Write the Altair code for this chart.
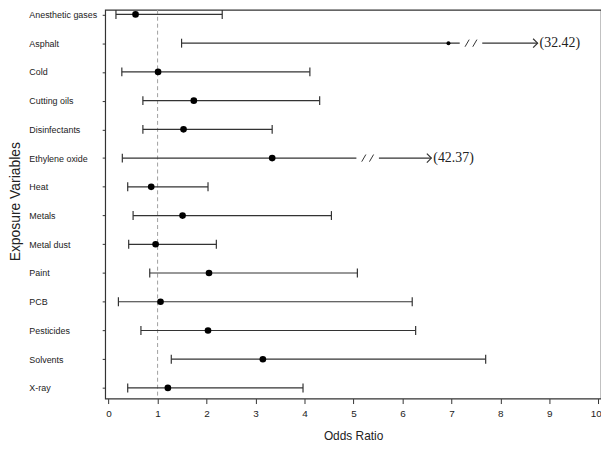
import json
import altair as alt
import pandas as pd

# ---- data ----
names = ["Anesthetic gases", "Asphalt", "Cold", "Cutting oils", "Disinfectants",
         "Ethylene oxide", "Heat", "Metals", "Metal dust", "Paint", "PCB",
         "Pesticides", "Solvents", "X-ray"]
odds = [0.55, 6.94, 1.01, 1.74, 1.53, 3.34, 0.87, 1.51, 0.96, 2.05, 1.06, 2.03, 3.15, 1.21]
lower = [0.15, 1.49, 0.27, 0.70, 0.70, 0.28, 0.39, 0.50, 0.41, 0.84, 0.20, 0.66, 1.28, 0.39]
upper = [2.32, 32.42, 4.11, 4.31, 3.34, 42.37, 2.03, 4.55, 2.20, 5.08, 6.20, 6.27, 7.70, 3.97]
x_ticks = list(range(0, 11))
axis_max = 10

# truncated intervals: where the axis break and the arrow sit (in odds-ratio units)
break_at = {"Asphalt": 7.40, "Ethylene oxide": 5.29}
arrow_at = {"Asphalt": 8.76, "Ethylene oxide": 6.59}
gap = 0.23

rows = []
for i, (n, o, l, u) in enumerate(zip(names, odds, lower, upper)):
    trunc = u > axis_max
    rows.append(dict(
        name=n, idx=i, odds=o, lower=l, upper=u, trunc=trunc,
        seg_end=(break_at[n] - gap) if trunc else u,
    ))
df = pd.DataFrame(rows)

trows = []
for r in rows:
    if r["trunc"]:
        n = r["name"]
        trows.append(dict(name=n, idx=r["idx"], brk=break_at[n],
                          seg2=break_at[n] + gap, arrow=arrow_at[n],
                          label="(%.2f)" % r["upper"]))
tdf = pd.DataFrame(trows)
capdf = df[~df["trunc"]]

LINE = "#333333"
xs = alt.Scale(domain=[-0.07, 10.055], nice=False, zero=False)
ys = alt.Scale(domain=[-0.16, 13.37], reverse=True, nice=False, zero=False)

label_arr = json.dumps(names)
xaxis = alt.Axis(title="Odds Ratio", values=x_ticks, grid=False, domain=False,
                 tickSize=5, tickColor=LINE, labelPadding=5, labelFontSize=10,
                 labelFont="Liberation Sans", labelColor="#222222", labelFlush=False,
                 labelOffset={"condition": {"test": "datum.value == 10", "value": -2.5},
                              "value": 0},
                 titleFont="Liberation Sans", titleFontSize=12, titleFontWeight="normal",
                 titleColor="#222222", titleBaseline="middle", titleY=37)
yaxis = alt.Axis(title="Exposure Variables", values=list(range(len(names))),
                 labelExpr=label_arr + "[datum.value]", grid=False, domain=False,
                 tickSize=3, tickColor=LINE, labelAlign="left", labelBaseline="middle",
                 labelPadding=74, labelFontSize=9, labelFont="Liberation Sans",
                 labelColor="#222222", labelOverlap=False, labelFlush=False,
                 titleFont="Liberation Sans", titleFontSize=14, titleFontWeight="normal",
                 titleColor="#222222", titleAngle=270, titleAlign="center",
                 titleBaseline="middle", titleX=-90, titleY=193)


def X(field):
    return alt.X(field, type="quantitative", scale=xs, axis=xaxis)


def Y():
    return alt.Y("idx", type="quantitative", scale=ys, axis=yaxis)


ref = alt.Chart(pd.DataFrame({"ref": [1.0]})).mark_rule(
    color="#a0a0a0", strokeDash=[4, 3], strokeWidth=1
).encode(x=X("ref"))

seg = alt.Chart(df).mark_rule(color=LINE, strokeWidth=1.2).encode(
    x=X("lower"), x2="seg_end", y=Y())

left_cap = alt.Chart(df).mark_point(
    shape="M0,-1L0,1", size=81, filled=False, stroke=LINE, strokeWidth=1.2, opacity=1
).encode(x=X("lower"), y=Y())

right_cap = alt.Chart(capdf).mark_point(
    shape="M0,-1L0,1", size=81, filled=False, stroke=LINE, strokeWidth=1.2, opacity=1
).encode(x=X("upper"), y=Y())

seg2 = alt.Chart(tdf).mark_rule(color=LINE, strokeWidth=1.2).encode(
    x=X("seg2"), x2="arrow", y=Y())

breaks = alt.Chart(tdf).mark_point(
    shape="M-1,0.6L-0.3,-0.6M0.3,0.6L1,-0.6", size=144, filled=False,
    stroke=LINE, strokeWidth=1, opacity=1
).encode(x=X("brk"), y=Y())

arrows = alt.Chart(tdf).mark_point(
    shape="M-1,-1L0,0L-1,1", size=81, filled=False, stroke=LINE,
    strokeWidth=1.2, opacity=1
).encode(x=X("arrow"), y=Y())

labels = alt.Chart(tdf).mark_text(
    align="left", baseline="middle", dx=2, font="Liberation Serif",
    fontSize=14, color="#222222"
).encode(x=X("arrow"), y=Y(), text="label")

points = alt.Chart(df).mark_circle(color="black", opacity=1).encode(
    x=X("odds"), y=Y(),
    size=alt.condition(alt.datum.name == "Asphalt", alt.value(16), alt.value(45)))

chart = alt.layer(ref, seg, seg2, left_cap, right_cap, breaks, arrows, labels, points).properties(
    width=500, height=392,
    padding={"left": 98, "top": 0, "right": 0, "bottom": 50},
    autosize=alt.AutoSizeParams(type="none"),
    background="white",
).configure_view(stroke="#333333", strokeWidth=1.2)

chart.save("out.html", embed_options={"renderer": "svg", "actions": False})
